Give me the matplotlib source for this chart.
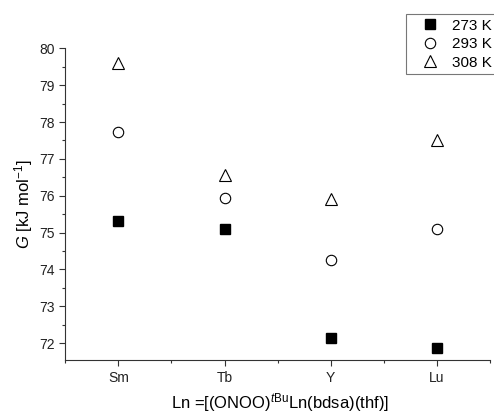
import matplotlib
matplotlib.use('Agg')
import matplotlib.pyplot as plt
from matplotlib.ticker import MultipleLocator

plt.rcParams['font.family'] = ['Liberation Sans', 'DejaVu Sans']
plt.rcParams['mathtext.fontset'] = 'custom'
plt.rcParams['mathtext.rm'] = 'Liberation Sans'
plt.rcParams['mathtext.it'] = 'Liberation Sans:italic'

# Ln metals and G values per temperature
metals = ['Sm', 'Tb', 'Y', 'Lu']
g_273 = [75.31, 75.10, 72.14, 71.88]
g_293 = [77.74, 75.93, 74.27, 75.10]
g_308 = [79.60, 76.56, 75.90, 77.51]

xpos = list(range(1, len(metals) + 1))

fig = plt.figure(figsize=(4.94, 4.13), dpi=100)
ax = fig.add_axes([0.132, 0.128, 0.86, 0.755])

ax.plot(xpos, g_273, ls='none', marker='s', ms=6.8, mfc='black', mec='black', label='273 K')
ax.plot(xpos, g_293, ls='none', marker='o', ms=7.5, mfc='white', mec='black', mew=0.8, label='293 K')
ax.plot(xpos, g_308, ls='none', marker='^', ms=8.5, mfc='white', mec='black', mew=0.8, label='308 K')

ax.set_xlim(0.5, 4.5)
ax.set_ylim(71.54, 80)
ax.set_xticks(xpos)
ax.set_xticklabels(metals)
ax.set_xticks([0.5, 1.5, 2.5, 3.5, 4.5], minor=True)
ax.yaxis.set_major_locator(MultipleLocator(1))
ax.yaxis.set_minor_locator(MultipleLocator(0.5))

ax.spines['top'].set_visible(False)
ax.spines['right'].set_visible(False)
for s in ['left', 'bottom']:
    ax.spines[s].set_linewidth(0.8)
    ax.spines[s].set_color('#333333')

ax.tick_params(which='major', direction='out', length=4, width=0.8, labelsize=10, colors='#333333', labelcolor='#222222')
ax.tick_params(which='minor', direction='out', length=2.5, width=0.8, colors='#333333')

ax.set_ylabel(r'$\mathit{G}$ [kJ mol$^{-1}$]', fontsize=12, labelpad=3)
# x label placed by hand so the superscript does not push it off the figure
fig.text(280 / 494, 4.5 / 413, r'Ln =[(ONOO)$^{\mathit{t}\mathrm{Bu}}$Ln(bdsa)(thf)]',
         fontsize=12, ha='center', va='baseline')

leg = fig.legend(loc='upper left', bbox_to_anchor=(406 / 494, 1 - 14 / 413), frameon=True,
                 fontsize=11, fancybox=False, borderpad=0.3, handletextpad=0.2,
                 labelspacing=0.3, handlelength=2.5, borderaxespad=0)
leg.get_frame().set_edgecolor('#555555')
leg.get_frame().set_linewidth(0.8)

fig.savefig('out.png', dpi=100)
